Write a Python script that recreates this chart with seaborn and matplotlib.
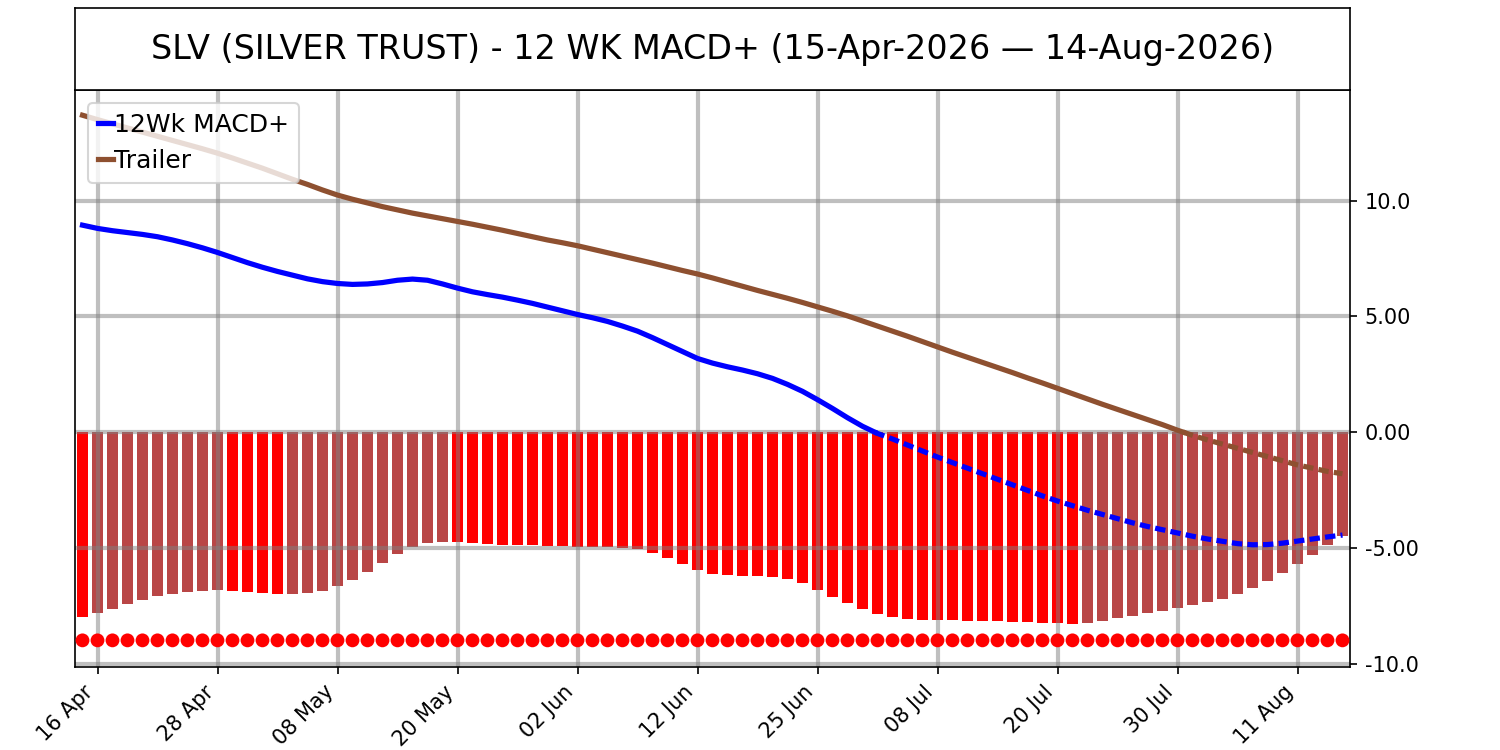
import numpy as np
import pandas as pd
import matplotlib
matplotlib.use("Agg")
import matplotlib.pyplot as plt
import seaborn as sns
from matplotlib.ticker import FuncFormatter, FixedLocator

# ---------------- data ----------------
title_text = "SLV (SILVER TRUST) - 12 WK MACD+ (15-Apr-2026 \u2014 14-Aug-2026)"
start_date = "2026-04-15"
end_date = "2026-08-14"
market_holidays = ["2026-05-25", "2026-06-19", "2026-07-03"]

macd_plus = [
    8.94, 8.80, 8.70, 8.62, 8.54, 8.44, 8.30, 8.14, 7.96, 7.76,
    7.54, 7.32, 7.12, 6.94, 6.78, 6.62, 6.50, 6.42, 6.38, 6.40,
    6.46, 6.56, 6.61, 6.56, 6.40, 6.22, 6.06, 5.94, 5.83, 5.70,
    5.56, 5.40, 5.24, 5.08, 4.94, 4.78, 4.58, 4.36, 4.08, 3.78,
    3.48, 3.18, 2.98, 2.82, 2.68, 2.52, 2.32, 2.06, 1.76, 1.40,
    1.02, 0.62, 0.25, -0.06, -0.30, -0.56, -0.82, -1.08, -1.32, -1.56,
    -1.80, -2.04, -2.28, -2.52, -2.76, -2.98, -3.18, -3.38, -3.56, -3.74,
    -3.92, -4.08, -4.22, -4.36, -4.50, -4.62, -4.72, -4.82, -4.87, -4.86,
    -4.80, -4.71, -4.62, -4.53, -4.45,
]

trailer = [
    13.69, 13.50, 13.32, 13.14, 12.96, 12.78, 12.60, 12.42, 12.24, 12.05,
    11.84, 11.62, 11.40, 11.16, 10.92, 10.70, 10.46, 10.24, 10.06, 9.90,
    9.74, 9.60, 9.46, 9.34, 9.22, 9.10, 8.98, 8.85, 8.72, 8.58,
    8.44, 8.30, 8.18, 8.05, 7.90, 7.75, 7.60, 7.45, 7.30, 7.14,
    6.98, 6.83, 6.66, 6.48, 6.30, 6.12, 5.95, 5.78, 5.60, 5.41,
    5.22, 5.02, 4.80, 4.58, 4.36, 4.14, 3.91, 3.68, 3.45, 3.23,
    3.01, 2.79, 2.57, 2.34, 2.12, 1.89, 1.66, 1.43, 1.20, 0.98,
    0.76, 0.54, 0.32, 0.08, -0.14, -0.34, -0.52, -0.70, -0.88, -1.06,
    -1.24, -1.42, -1.56, -1.70, -1.80,
]

histogram = [
    -7.98, -7.83, -7.63, -7.42, -7.24, -7.07, -6.98, -6.90, -6.86, -6.84,
    -6.88, -6.93, -6.97, -6.99, -6.98, -6.94, -6.86, -6.64, -6.38, -6.03,
    -5.64, -5.26, -4.97, -4.79, -4.74, -4.77, -4.81, -4.85, -4.87, -4.89,
    -4.90, -4.93, -4.94, -4.95, -4.96, -4.97, -4.99, -5.07, -5.24, -5.46,
    -5.69, -5.95, -6.12, -6.19, -6.21, -6.22, -6.26, -6.34, -6.51, -6.81,
    -7.11, -7.37, -7.63, -7.85, -7.98, -8.06, -8.10, -8.11, -8.12, -8.15,
    -8.16, -8.18, -8.19, -8.20, -8.24, -8.27, -8.28, -8.24, -8.15, -8.02,
    -7.93, -7.80, -7.72, -7.59, -7.46, -7.33, -7.20, -6.98, -6.73, -6.42,
    -6.08, -5.69, -5.30, -4.87, -4.48,
]

signal_dot_level = -9.0
y_ticks = [-10.0, -5.0, 0.0, 5.0, 10.0]

# ---------------- derived tables ----------------
dates = pd.bdate_range(start_date, end_date, freq="C", holidays=market_holidays)
n = len(dates)
idx = np.arange(n)
hist_arr = np.array(histogram)
direction = np.where(np.diff(np.concatenate([[0.0], hist_arr])) < 0, "falling", "rising")
df = pd.DataFrame({"i": idx, "hist": hist_arr, "dir": direction,
                   "macd": macd_plus, "trailer": trailer,
                   "dot": np.full(n, signal_dot_level)})


def split_at_zero(values):
    v = np.asarray(values, dtype=float)
    xs = idx.astype(float)
    k = int(np.where((v[:-1] >= 0) & (v[1:] < 0))[0][0])
    xc = k + v[k] / (v[k] - v[k + 1])
    pos = pd.DataFrame({"x": np.append(xs[:k + 1], xc), "y": np.append(v[:k + 1], 0.0)})
    neg = pd.DataFrame({"x": np.insert(xs[k + 1:], 0, xc), "y": np.insert(v[k + 1:], 0, 0.0)})
    return pos, neg


# ---------------- figure ----------------
plt.rcParams["font.family"] = ["DejaVu Sans"]
fig = plt.figure(figsize=(10, 5), dpi=150)
ax = fig.add_axes([0.05, 0.1107, 0.85, 0.7693])
tax = fig.add_axes([0.05, 0.88, 0.85, 0.1093])

BAR_RED = "#FF0000"
BAR_BROWN = "#B94646"
BLUE = "#0000FF"
BROWN = "#8E5030"

sns.barplot(data=df, x="i", y="hist", hue="dir", native_scale=True,
            palette={"falling": BAR_RED, "rising": BAR_BROWN},
            width=0.7, dodge=False, legend=False, ax=ax, zorder=1,
            saturation=1.0, errorbar=None)

m_pos, m_neg = split_at_zero(macd_plus)
t_pos, t_neg = split_at_zero(trailer)

sns.lineplot(data=m_pos, x="x", y="y", color=BLUE, lw=2.5, ax=ax, zorder=3,
             label="12Wk MACD+", sort=False)
sns.lineplot(data=m_neg, x="x", y="y", color=BLUE, lw=2.5, ax=ax, zorder=3,
             sort=False).lines[-1].set_dashes((2, 1))
sns.lineplot(data=t_pos, x="x", y="y", color=BROWN, lw=2.5, ax=ax, zorder=3,
             label="Trailer", sort=False)
sns.lineplot(data=t_neg, x="x", y="y", color=BROWN, lw=2.5, ax=ax, zorder=3,
             sort=False).lines[-1].set_dashes((2, 1))

sns.scatterplot(data=df, x="i", y="dot", color="#FF0000", s=44, edgecolor="none",
                ax=ax, zorder=4, legend=False)

ax.set_xlim(-0.5, n - 0.5)
ax.set_ylim(-10.15, 14.78)

tick_pos = idx[1::8]
ax.xaxis.set_major_locator(FixedLocator(tick_pos))
ax.set_xticklabels([dates[p].strftime("%d %b") for p in tick_pos],
                   rotation=45, ha="right", fontsize=10)
ax.yaxis.tick_right()
ax.yaxis.set_major_locator(FixedLocator(y_ticks))
ax.yaxis.set_major_formatter(FuncFormatter(lambda v, p: format(v, "#.3g")))
ax.tick_params(axis="y", labelsize=10)
ax.set_xlabel("")
ax.set_ylabel("")

ax.set_axisbelow("line")
ax.grid(True, color="gray", alpha=0.5, lw=2)

leg = ax.legend(loc="upper left", fontsize=12, handlelength=0.6,
                handletextpad=0.05, borderpad=0.4)
for h in leg.legend_handles:
    h.set_linewidth(2.5)

tax.set_xticks([])
tax.set_yticks([])
tax.text(0.5, 0.5, title_text, ha="center", va="center", fontsize=16,
         transform=tax.transAxes)

fig.savefig("out.png", dpi=150)
